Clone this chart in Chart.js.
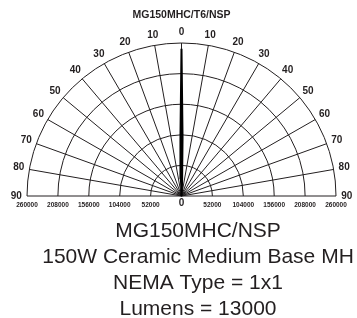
<!DOCTYPE html>
<html>
<head>
<meta charset="utf-8">
<script src="https://cdn.jsdelivr.net/npm/chart.js@4.4.1/dist/chart.umd.min.js"></script>
<style>
  html, body { margin: 0; padding: 0; background: #fff; }
  #wrap { width: 357px; height: 318px; }
</style>
</head>
<body>
<div id="wrap"><canvas id="polarChart" width="357" height="318"></canvas></div>
<script>
const titleText = 'MG150MHC/T6/NSP';
const footerLines = ['MG150MHC/NSP', '150W Ceramic Medium Base MH', 'NEMA Type = 1x1', 'Lumens = 13000'];

// candela ring values and the spoke angles (degrees from nadir)
const ringValues = [52000, 104000, 156000, 208000, 260000];
const spokeAngles = [-90, -80, -70, -60, -50, -40, -30, -20, -10, 0, 10, 20, 30, 40, 50, 60, 70, 80, 90];

// measured beam, one side (symmetric lamp)
const beamAngles = [0, 1, 2, 3, 4, 5, 7.5, 10, 15, 20, 30, 40, 50, 60, 70, 80, 90];
const beamCandela = [250000, 100000, 30000, 12000, 6000, 3500, 2000, 1500, 1000, 800, 500, 300, 200, 100, 50, 20, 0];

const maxCandela = 260000;
const labelRadius = 278000;
const ink = '#231f20';
const fontFamily = '"Liberation Sans", Arial, sans-serif';

function toXY(angle, value) {
    const rad = angle * Math.PI / 180;
    return { x: value * Math.sin(rad), y: value * Math.cos(rad) };
}

// mirror the one-sided beam to get a -90..90 curve
const beamPoints = [];
for (let i = beamAngles.length - 1; i > 0; i--) {
    beamPoints.push(toXY(-beamAngles[i], beamCandela[i]));
}
for (let i = 0; i < beamAngles.length; i++) {
    beamPoints.push(toXY(beamAngles[i], beamCandela[i]));
}

const polarGrid = {
    id: 'polarGrid',
    beforeDatasetsDraw(chart) {
        const ctx = chart.ctx;
        const xs = chart.scales.x;
        const ys = chart.scales.y;
        const cx = xs.getPixelForValue(0);
        const cy = ys.getPixelForValue(0);
        ctx.save();
        ctx.strokeStyle = ink;
        ctx.lineWidth = 1;
        ringValues.forEach(r => {
            const rx = xs.getPixelForValue(r) - cx;
            const ry = cy - ys.getPixelForValue(r);
            ctx.beginPath();
            ctx.ellipse(cx, cy, rx, ry, 0, Math.PI, 2 * Math.PI);
            ctx.stroke();
        });
        spokeAngles.forEach(a => {
            const p = toXY(a, maxCandela);
            ctx.beginPath();
            ctx.moveTo(cx, cy);
            ctx.lineTo(xs.getPixelForValue(p.x), ys.getPixelForValue(p.y));
            ctx.stroke();
        });
        ctx.restore();
    },
    afterDraw(chart) {
        const ctx = chart.ctx;
        const xs = chart.scales.x;
        const ys = chart.scales.y;
        ctx.save();
        ctx.fillStyle = ink;
        ctx.textAlign = 'center';
        ctx.textBaseline = 'middle';

        ctx.font = 'bold 10px ' + fontFamily;
        spokeAngles.forEach(a => {
            const p = toXY(a, labelRadius);
            ctx.fillText(String(Math.abs(a)), xs.getPixelForValue(p.x), ys.getPixelForValue(p.y));
        });

        ctx.font = 'bold 10.5px ' + fontFamily;
        ctx.fillText(titleText, xs.getPixelForValue(0), 15);

        ctx.textBaseline = 'alphabetic';
        ctx.font = '21px ' + fontFamily;
        footerLines.forEach((line, i) => {
            ctx.fillText(line, 198, 237 + i * 26);
        });
        ctx.restore();
    }
};

new Chart(document.getElementById('polarChart'), {
    type: 'scatter',
    data: {
        datasets: [{
            data: beamPoints,
            showLine: true,
            borderColor: '#000',
            backgroundColor: '#000',
            borderWidth: 2,
            pointRadius: 0,
            tension: 0,
            fill: 'origin'
        }]
    },
    options: {
        responsive: false,
        animation: false,
        events: [],
        layout: {
            padding: { left: 27, right: 21, top: 43, bottom: 96 }
        },
        plugins: {
            legend: { display: false },
            tooltip: { enabled: false }
        },
        scales: {
            x: {
                type: 'linear',
                min: -maxCandela,
                max: maxCandela,
                grid: { display: false, drawTicks: false },
                border: { display: false },
                ticks: {
                    stepSize: 52000,
                    autoSkip: false,
                    maxRotation: 0,
                    padding: 7,
                    crossAlign: 'center',
                    color: ink,
                    font: ctx => ctx.tick && ctx.tick.value === 0
                        ? { family: fontFamily, size: 10, weight: 'bold' }
                        : { family: fontFamily, size: 6.5, weight: 'bold' },
                    callback: value => String(Math.abs(value))
                }
            },
            y: {
                type: 'linear',
                display: false,
                min: 0,
                max: maxCandela
            }
        }
    },
    plugins: [polarGrid]
});
</script>
</body>
</html>
